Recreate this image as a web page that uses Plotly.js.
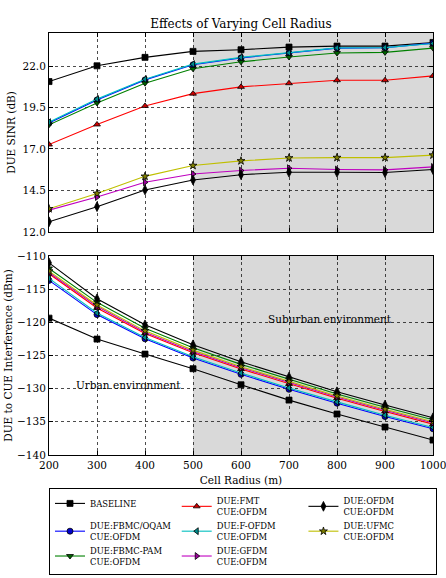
<!DOCTYPE html>
<html>
<head>
<meta charset="utf-8">
<script src="https://cdn.plot.ly/plotly-3.0.1.min.js"></script>
<style>html,body{margin:0;padding:0;background:#fff;}#chart{width:446px;height:578px;}</style>
</head>
<body>
<div id="chart"></div>
<script>
var radius = [200, 300, 400, 500, 600, 700, 800, 900, 1000];

var seriesNames = [
  "BASELINE",
  "DUE:FBMC/OQAM<br>CUE:OFDM",
  "DUE:FBMC-PAM<br>CUE:OFDM",
  "DUE:FMT<br>CUE:OFDM",
  "DUE:F-OFDM<br>CUE:OFDM",
  "DUE:GFDM<br>CUE:OFDM",
  "DUE:OFDM<br>CUE:OFDM",
  "DUE:UFMC<br>CUE:OFDM"
];

// DUE SINR (dB)
var sinrBaseline = [21.07, 22.02, 22.53, 22.89, 22.99, 23.15, 23.21, 23.21, 23.43];
var sinrFbmcOqam = [18.57, 19.96, 21.17, 22.08, 22.50, 22.79, 23.09, 23.11, 23.39];
var sinrFbmcPam  = [18.46, 19.78, 20.97, 21.84, 22.26, 22.55, 22.79, 22.83, 23.09];
var sinrFmt      = [17.27, 18.48, 19.60, 20.34, 20.75, 20.97, 21.15, 21.15, 21.41];
var sinrFofdm    = [18.62, 20.01, 21.21, 22.12, 22.53, 22.80, 23.10, 23.12, 23.37];
var sinrGfdm     = [13.31, 14.10, 14.99, 15.49, 15.70, 15.84, 15.76, 15.74, 15.92];
var sinrOfdm     = [12.61, 13.52, 14.53, 15.13, 15.45, 15.60, 15.60, 15.58, 15.76];
var sinrUfmc     = [13.39, 14.32, 15.35, 16.00, 16.28, 16.46, 16.48, 16.48, 16.63];

// DUE to CUE interference (dBm)
var intBaseline = [-119.38, -122.54, -124.80, -127.00, -129.42, -131.73, -133.83, -135.79, -137.75];
var intFbmcOqam = [-113.70, -118.85, -122.50, -125.40, -127.85, -130.10, -132.20, -134.20, -136.05];
var intFbmcPam  = [-111.90, -117.00, -120.90, -123.85, -126.35, -128.60, -130.80, -132.80, -134.70];
var intFmt      = [-112.70, -117.85, -121.70, -124.60, -127.05, -129.30, -131.45, -133.45, -135.35];
var intFofdm    = [-113.40, -118.60, -122.30, -125.20, -127.65, -129.90, -132.00, -134.00, -135.85];
var intGfdm     = [-112.50, -117.60, -121.50, -124.40, -126.85, -129.10, -131.25, -133.25, -135.15];
var intOfdm     = [-111.05, -116.47, -120.39, -123.40, -125.96, -128.26, -130.47, -132.48, -134.39];
var intUfmc     = [-112.30, -117.40, -121.30, -124.20, -126.70, -128.95, -131.10, -133.10, -135.00];

var sinrSeries = [sinrBaseline, sinrFbmcOqam, sinrFbmcPam, sinrFmt, sinrFofdm, sinrGfdm, sinrOfdm, sinrUfmc];
var intSeries  = [intBaseline, intFbmcOqam, intFbmcPam, intFmt, intFofdm, intGfdm, intOfdm, intUfmc];

var lineColors   = ["#000000", "#0000ff", "#008000", "#ff0000", "#00bfbf", "#bf00bf", "#000000", "#bfbf00"];
var markerColors = ["#000000", "#0000cc", "#006400", "#cc0000", "#008b8b", "#990099", "#000000", "#7f7f00"];
var symbols = ["square", "circle", "triangle-down", "triangle-up", "triangle-left", "triangle-right", "diamond-tall", "star"];
var markerSizes = [6, 6, 6, 6, 6, 6, 7, 6];
var legendRanks = [1, 4, 7, 2, 5, 8, 3, 6];

var traces = [];
for (var i = 0; i < seriesNames.length; i++) {
  var common = {
    type: "scatter", mode: "lines+markers", x: radius, name: seriesNames[i],
    line: {color: lineColors[i], width: 1.1},
    marker: {symbol: symbols[i], size: markerSizes[i], color: markerColors[i], line: {color: "#000", width: 0.8}},
    legendgroup: "g" + i, legendrank: legendRanks[i]
  };
  var t1 = Object.assign({}, common, {y: sinrSeries[i], xaxis: "x", yaxis: "y", showlegend: true});
  var t2 = Object.assign({}, common, {y: intSeries[i], xaxis: "x2", yaxis: "y2", showlegend: false});
  traces.push(t1);
  traces.push(t2);
}

var fontFam = "DejaVu Serif, serif";
var axisCommon = {
  showline: true, linecolor: "#000", linewidth: 1, mirror: "ticks",
  ticks: "inside", ticklen: 4, tickcolor: "#000", tickwidth: 1,
  showgrid: true, gridcolor: "#000", gridwidth: 0.7, griddash: "dot",
  zeroline: false, tickfont: {family: fontFam, size: 10.5, color: "#000"},
  ticklabeloverflow: "allow"
};

var layout = {
  width: 446, height: 578,
  paper_bgcolor: "#fff", plot_bgcolor: "#fff",
  margin: {l: 49, r: 13, t: 33, b: 123, autoexpand: false},
  font: {family: fontFam, color: "#000"},
  title: {text: "Effects of Varying Cell Radius", x: 0.5, xref: "paper", y: 0.958, yref: "container", yanchor: "middle",
          font: {family: fontFam, size: 12, color: "#000"}},
  xaxis: Object.assign({}, axisCommon, {domain: [0, 1], anchor: "y", range: [200, 1000], dtick: 100, tick0: 200, showticklabels: false}),
  yaxis: Object.assign({}, axisCommon, {domain: [0.5288, 1], anchor: "x", range: [12, 24], tickvals: [12, 14.5, 17, 19.5, 22], tickformat: ".1f",
          title: {text: "DUE SINR (dB)", font: {family: fontFam, size: 10.5}, standoff: 4}}),
  xaxis2: Object.assign({}, axisCommon, {domain: [0, 1], anchor: "y2", range: [200, 1000], dtick: 100, tick0: 200,
          title: {text: "Cell Radius (m)", font: {family: fontFam, size: 10.5}, standoff: 7}}),
  yaxis2: Object.assign({}, axisCommon, {domain: [0, 0.4719], anchor: "x2", range: [-140, -110], dtick: 5, tick0: -140,
          title: {text: "DUE to CUE Interference (dBm)", font: {family: fontFam, size: 10.5}, standoff: 2}}),
  shapes: [
    {type: "rect", xref: "x", yref: "y domain", x0: 500, x1: 1000, y0: 0, y1: 1, fillcolor: "#d9d9d9", line: {width: 0}, layer: "below"},
    {type: "rect", xref: "x2", yref: "y2 domain", x0: 500, x1: 1000, y0: 0, y1: 1, fillcolor: "#d9d9d9", line: {width: 0}, layer: "below"}
  ],
  annotations: [
    {text: "Suburban environment", xref: "x2", yref: "y2", x: 785, y: -119.5, showarrow: false, font: {family: fontFam, size: 10.5, color: "#000"}},
    {text: "Urban environment", xref: "x2", yref: "y2", x: 365, y: -129.5, showarrow: false, font: {family: fontFam, size: 10.5, color: "#000"}}
  ],
  legend: {orientation: "h", x: 0, xanchor: "left", y: -0.078, yanchor: "top",
           entrywidth: 0.33, entrywidthmode: "fraction",
           bgcolor: "#fff", bordercolor: "#000", borderwidth: 1,
           font: {family: fontFam, size: 8.4, color: "#000"}, traceorder: "normal", tracegroupgap: 0}
};

Plotly.newPlot("chart", traces, layout, {displayModeBar: false, staticPlot: true});
</script>
</body>
</html>
